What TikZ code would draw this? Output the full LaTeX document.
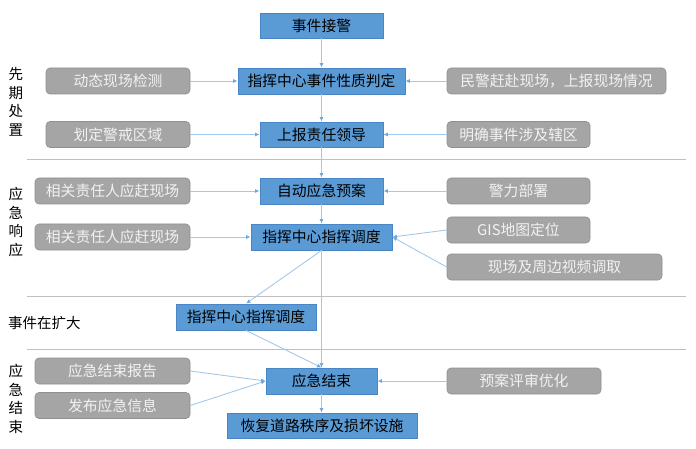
\documentclass[tikz,border=0pt]{standalone}
\usepackage{fontspec}
\setmainfont{Noto Sans CJK SC}
\usetikzlibrary{arrows.meta}
\definecolor{bluefill}{HTML}{5B9BD5}
\definecolor{blueline}{HTML}{4A86C5}
\definecolor{grayfill}{HTML}{A5A5A5}
\definecolor{grayline}{HTML}{8F8F8F}
\definecolor{graytext}{HTML}{F2F2F2}
\definecolor{arrowcol}{HTML}{A4C8EA}
\definecolor{tipcol}{HTML}{6FA8DC}
\definecolor{sepcol}{HTML}{BFBFBF}
\begin{document}
\begin{tikzpicture}[x=1pt,y=-1pt,
  bluebox/.style={draw=blueline,fill=bluefill,line width=0.8pt,inner sep=0pt,
    font=\fontsize{14.8}{16}\selectfont,text=black},
  graybox/.style={draw=grayline,fill=grayfill,rounded corners=4pt,line width=0.6pt,inner sep=0pt,
    font=\fontsize{14.8}{16}\selectfont,text=graytext,minimum height=26pt},
  conn/.style={draw=arrowcol,line width=0.9pt,-{Latex[length=4.5pt,width=4pt,color=tipcol]}},
  sep/.style={draw=sepcol,line width=1pt},
  sidelabel/.style={font=\fontsize{14.5}{18.5}\selectfont,align=center,text=black,inner sep=0pt}]
\path[use as bounding box] (0,0) rectangle (696,449);
% separators
\draw[sep] (27,160) -- (686,160);
\draw[sep] (27,296) -- (686,296);
\draw[sep] (27,349) -- (686,349);
% side labels
\node[sidelabel] (lab1) at (16,102) {先\\期\\处\\置};
\node[sidelabel] (lab2) at (16,222) {应\\急\\响\\应};
\node[sidelabel] (lab3) at (44.5,323) {事件在扩大};
\node[sidelabel] (lab4) at (16,399) {应\\急\\结\\束};
% blue boxes
\node[bluebox,minimum width=123pt,minimum height=25pt] (jj) at (321.5,25.5) {事件接警};
\node[bluebox,minimum width=167pt,minimum height=26pt] (pd) at (321.5,81) {指挥中心事件性质判定};
\node[bluebox,minimum width=123pt,minimum height=25pt] (sb) at (321.5,134.5) {上报责任领导};
\node[bluebox,minimum width=123pt,minimum height=26pt] (zd) at (321.5,191) {自动应急预案};
\node[bluebox,minimum width=141pt,minimum height=26pt] (zh1) at (321.5,237) {指挥中心指挥调度};
\node[bluebox,minimum width=140pt,minimum height=26pt] (zh2) at (246,317) {指挥中心指挥调度};
\node[bluebox,minimum width=111pt,minimum height=26pt] (js) at (321.5,381) {应急结束};
\node[bluebox,minimum width=190pt,minimum height=25pt] (hf) at (322,425.5) {恢复道路秩序及损坏设施};
% gray boxes
\node[graybox,minimum width=144pt] (g1) at (118,81) {动态现场检测};
\node[graybox,minimum width=144pt] (g2) at (118,134.5) {划定警戒区域};
\node[graybox,minimum width=219pt] (g3) at (556.5,81) {民警赶赴现场，上报现场情况};
\node[graybox,minimum width=143pt] (g4) at (518.5,134.5) {明确事件涉及辖区};
\node[graybox,minimum width=155pt] (g5) at (112.5,191) {相关责任人应赶现场};
\node[graybox,minimum width=155pt] (g6) at (112.5,237) {相关责任人应赶现场};
\node[graybox,minimum width=143pt] (g7) at (518.5,191) {警力部署};
\node[graybox,minimum width=143pt] (g8) at (518.5,230) {GIS地图定位};
\node[graybox,minimum width=215pt] (g9) at (554.5,267) {现场及周边视频调取};
\node[graybox,minimum width=155pt] (g10) at (112.5,371) {应急结束报告};
\node[graybox,minimum width=155pt] (g11) at (112.5,405.5) {发布应急信息};
\node[graybox,minimum width=154pt] (g12) at (524,381) {预案评审优化};
% main flow
\draw[conn] (jj) -- (pd);
\draw[conn] (pd) -- (sb);
\draw[conn] (sb) -- (zd);
\draw[conn] (zd) -- (zh1);
\draw[conn] (zh1.south) -- (js.north);
\draw[conn] (zh1.south) -- (zh2.north);
\draw[conn] (zh2.south) -- (js.north);
\draw[conn] (js.south) -- (js.south |- hf.north);
% side inputs
\draw[conn] (g1) -- (pd);
\draw[conn] (g3) -- (pd);
\draw[conn] (g2) -- (sb);
\draw[conn] (g4) -- (sb);
\draw[conn] (g5) -- (zd);
\draw[conn] (g7) -- (zd);
\draw[conn] (g6) -- (zh1);
\draw[conn] (g8.west) -- (zh1.east);
\draw[conn] (g9.west) -- (zh1.east);
\draw[conn] (g10.east) -- (js.west);
\draw[conn] (g11.east) -- (js.west);
\draw[conn] (g12) -- (js);
\end{tikzpicture}
\end{document}
